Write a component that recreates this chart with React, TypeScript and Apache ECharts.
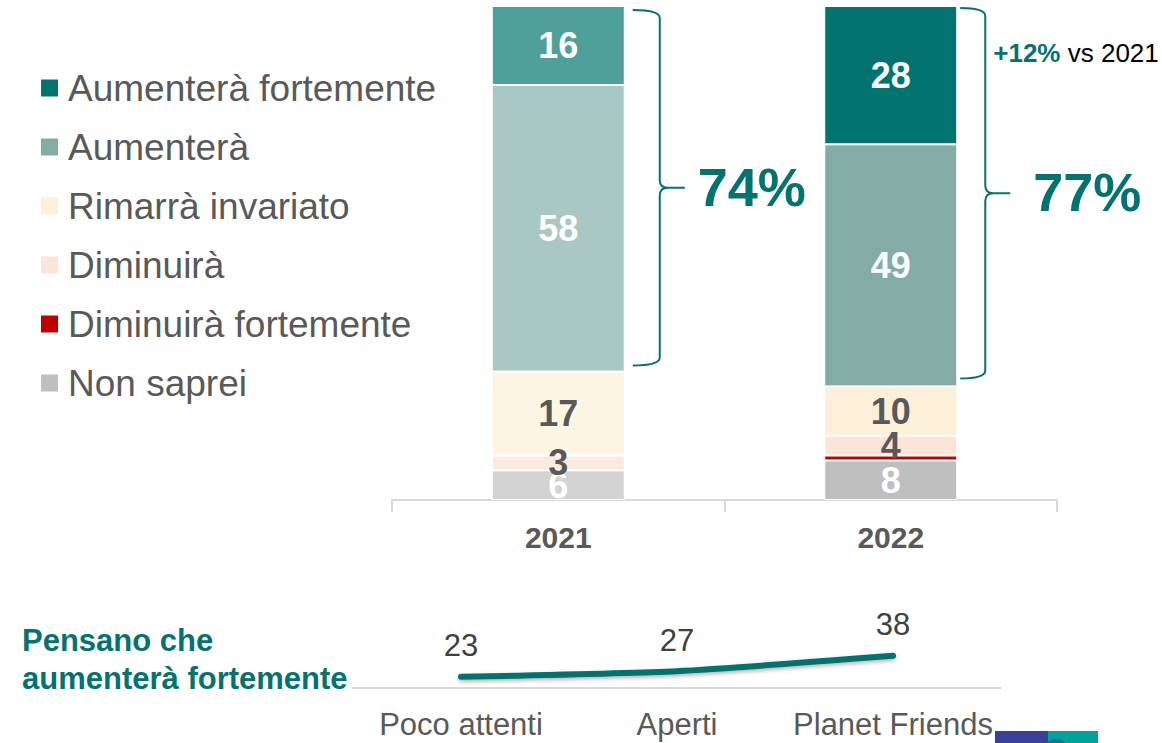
import { useEffect, useRef } from "react";
import * as echarts from "echarts";

// ---------- data ----------
const years = ["2021", "2022"];
const legendOrder = [
  "Aumenterà fortemente",
  "Aumenterà",
  "Rimarrà invariato",
  "Diminuirà",
  "Diminuirà fortemente",
  "Non saprei",
];
const nonSaprei = [6, 8];
const diminuiraForte = [0, 1];
const diminuira = [3, 4];
const invariato = [17, 10];
const aumentera = [58, 49];
const aumenteraForte = [16, 28];

const segments = ["Poco attenti", "Aperti", "Planet Friends"];
const fortementeBySegment = [23, 27, 38];

const FONT = '"Liberation Sans", Arial, Helvetica, sans-serif';
const TEAL = "#03736f";

const stackDefs = [
  { name: "Non saprei", data: nonSaprei, colors: ["#d3d3d3", "#bfbfbf"], label: "#ffffff" },
  { name: "Diminuirà fortemente", data: diminuiraForte, colors: ["#c00000", "#c00000"], label: "" },
  { name: "Diminuirà", data: diminuira, colors: ["#fbeadf", "#fbe5d6"], label: "#595959" },
  { name: "Rimarrà invariato", data: invariato, colors: ["#fdf5e4", "#fcf0d8"], label: "#595959" },
  { name: "Aumenterà", data: aumentera, colors: ["#a9c8c3", "#84aca7"], label: "#ffffff" },
  { name: "Aumenterà fortemente", data: aumenteraForte, colors: ["#4f9f9b", TEAL], label: "#ffffff" },
];

let braceRegistered = false;
function registerBrace() {
  if (braceRegistered) return;
  braceRegistered = true;
  const Brace = (echarts.graphic as any).extendShape({
    shape: { x: 0, y1: 0, y2: 100, w: 26, tip: 25, ry: 8 },
    buildPath(ctx: any, s: any) {
      const mid = (s.y1 + s.y2) / 2;
      const xv = s.x + s.w;
      ctx.moveTo(s.x, s.y1);
      ctx.quadraticCurveTo(xv, s.y1, xv, s.y1 + s.ry);
      ctx.lineTo(xv, mid - s.ry);
      ctx.quadraticCurveTo(xv, mid, xv + s.ry, mid);
      ctx.lineTo(xv + s.tip, mid);
      ctx.moveTo(s.x, s.y2);
      ctx.quadraticCurveTo(xv, s.y2, xv, s.y2 - s.ry);
      ctx.lineTo(xv, mid + s.ry);
      ctx.quadraticCurveTo(xv, mid, xv + s.ry, mid);
    },
  });
  (echarts.graphic as any).registerShape("brace", Brace);
}

export default function App() {
  const ref = useRef<HTMLDivElement>(null);

  useEffect(() => {
    document.body.style.margin = "0";
    if (!ref.current) return;
    registerBrace();
    const chart = echarts.init(ref.current, undefined, { renderer: "svg" });

    const barSeries = stackDefs.map((d) => ({
      name: d.name,
      type: "bar",
      stack: "total",
      xAxisIndex: 0,
      yAxisIndex: 0,
      barWidth: "40%",
      color: d.colors[1],
      itemStyle: { color: d.colors[1], borderColor: "#ffffff", borderWidth: 1 },
      data: d.data.map((v, i) => ({ value: v, itemStyle: { color: d.colors[i] } })),
      label: {
        show: !!d.label,
        position: "inside",
        fontSize: 36,
        fontWeight: "bold",
        fontFamily: FONT,
        color: d.label || "#fff",
        formatter: (p: any) => (p.value > 0 ? String(p.value) : ""),
      },
      emphasis: { disabled: true },
    }));

    chart.setOption({
      animation: false,
      textStyle: { fontFamily: FONT },
      legend: {
        data: legendOrder,
        orient: "vertical",
        left: 41,
        top: 68,
        padding: 0,
        itemWidth: 17,
        itemHeight: 17,
        itemGap: 19,
        icon: "rect",
        itemStyle: { borderWidth: 0 },
        selectedMode: false,
        textStyle: {
          fontSize: 37,
          color: "#595959",
          fontFamily: FONT,
          lineHeight: 40,
          padding: [0, 0, 0, 5],
        },
      },
      grid: [
        { left: 392, right: 105, top: 6, bottom: 243 },
        { left: 353, right: 161, top: 625, bottom: 55 },
      ],
      xAxis: [
        {
          type: "category",
          gridIndex: 0,
          data: years,
          axisLine: { lineStyle: { color: "#d9d9d9", width: 2 } },
          axisTick: { show: true, length: 12, lineStyle: { color: "#d9d9d9", width: 2 } },
          axisLabel: {
            fontSize: 30,
            fontWeight: "bold",
            color: "#595959",
            margin: 22,
            fontFamily: FONT,
          },
        },
        {
          type: "category",
          gridIndex: 1,
          data: segments,
          axisLine: { lineStyle: { color: "#d9d9d9", width: 2 } },
          axisTick: { show: false },
          axisLabel: {
            fontSize: 31,
            lineHeight: 31,
            color: "#595959",
            margin: 21,
            fontFamily: FONT,
            interval: 0,
            hideOverlap: false,
          },
        },
      ],
      yAxis: [
        { type: "value", gridIndex: 0, min: 0, max: 100, show: false },
        { type: "value", gridIndex: 1, min: 15, max: 60, show: false },
      ],
      series: [
        ...barSeries,
        {
          type: "line",
          xAxisIndex: 1,
          yAxisIndex: 1,
          data: fortementeBySegment,
          smooth: 0.2,
          symbol: "circle",
          symbolSize: 1,
          itemStyle: { color: TEAL },
          lineStyle: {
            width: 6,
            color: TEAL,
            cap: "round",
            shadowColor: "rgba(0,0,0,0.3)",
            shadowBlur: 4,
            shadowOffsetY: 2,
          },
          label: {
            show: true,
            position: "top",
            distance: 15,
            fontSize: 31,
            color: "#404040",
            fontFamily: FONT,
          },
          emphasis: { disabled: true },
        },
      ],
    });

    // annotations computed from the axes
    const px = (cat: string, v: number) =>
      chart.convertToPixel({ xAxisIndex: 0, yAxisIndex: 0 }, [cat, v]) as number[];
    const c21 = px(years[0], 100);
    const c22 = px(years[1], 100);
    const band = c22[0] - c21[0];
    const halfBar = (band * 0.4) / 2;

    const braces = years.map((y, i) => {
      const top = px(y, 100)[1];
      const pos = aumentera[i] + aumenteraForte[i];
      const bottom = px(y, 100 - pos)[1];
      const x = px(y, 0)[0] + halfBar + (i === 0 ? 8 : 3);
      return { x, y1: top + (i === 0 ? 4 : 2), y2: bottom - (i === 0 ? 6 : 8), pos };
    });

    const graphics: any[] = [];
    braces.forEach((b, i) => {
      const mid = (b.y1 + b.y2) / 2;
      const w = i === 0 ? 27 : 25;
      graphics.push({
        type: "brace",
        silent: true,
        shape: { x: b.x, y1: b.y1, y2: b.y2, w, tip: 25, ry: 8 },
        style: { stroke: TEAL, lineWidth: 2, fill: null },
      });
      graphics.push({
        type: "text",
        silent: true,
        x: b.x + w + 25 + (i === 0 ? 13 : 23),
        y: mid - 1,
        style: {
          text: `${b.pos}%`,
          font: `bold 54px ${FONT}`,
          fill: TEAL,
          align: "left",
          verticalAlign: "middle",
          textAlign: "left",
          textVerticalAlign: "middle",
        },
      });
    });

    const delta = aumenteraForte[1] - aumenteraForte[0];
    const b2 = braces[1];
    graphics.push({
      type: "text",
      silent: true,
      x: b2.x + 33,
      y: b2.y1 + 45,
      style: {
        text: `{b|+${delta}%}{n| vs ${years[0]}}`,
        align: "left",
        verticalAlign: "middle",
        textAlign: "left",
        textVerticalAlign: "middle",
        rich: {
          b: { fontSize: 26, fontWeight: "bold", fill: TEAL, fontFamily: FONT },
          n: { fontSize: 26, fill: "#000000", fontFamily: FONT },
        },
      },
    });

    graphics.push({
      type: "text",
      silent: true,
      x: 22,
      y: 621,
      style: {
        text: "Pensano che\naumenterà fortemente",
        font: `bold 31px ${FONT}`,
        lineHeight: 38,
        fill: TEAL,
        align: "left",
        verticalAlign: "top",
        textAlign: "left",
        textVerticalAlign: "top",
      },
    });

    // partial logo at bottom right
    graphics.push({
      type: "rect",
      silent: true,
      shape: { x: 995, y: 731, width: 53, height: 12 },
      style: { fill: "#3a3f97" },
    });
    graphics.push({
      type: "rect",
      silent: true,
      shape: { x: 1048, y: 731, width: 50, height: 12 },
      style: { fill: "#00a29a" },
    });
    graphics.push({
      type: "arc",
      silent: true,
      shape: { cx: 1056, cy: 752, r: 11, startAngle: Math.PI * 1.1, endAngle: Math.PI * 1.9 },
      style: { stroke: "#1f6f8f", lineWidth: 4, fill: null },
    });

    chart.setOption({ graphic: graphics });

    return () => chart.dispose();
  }, []);

  return <div ref={ref} style={{ width: 1162, height: 743 }} />;
}
